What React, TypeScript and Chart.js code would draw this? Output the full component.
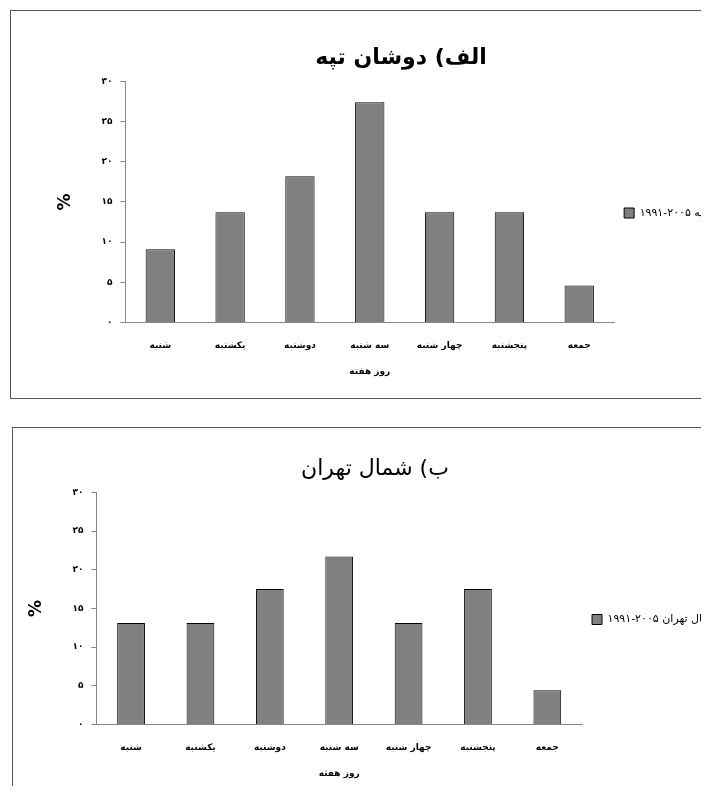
import { useEffect, useRef } from 'react';
import { Chart, registerables } from 'chart.js';

Chart.register(...registerables);

const days = ['شنبه', 'یکشنبه', 'دوشنبه', 'سه شنبه', 'چهار شنبه', 'پنجشنبه', 'جمعه'];
const doshanTappeh = [9.1, 13.7, 18.2, 27.4, 13.7, 13.7, 4.6];
const northTehran = [13.1, 13.1, 17.5, 21.7, 13.1, 17.5, 4.4];
const yTicks = [0, 5, 10, 15, 20, 25, 30];

const faDigits = (n: number) => String(n).replace(/\d/g, (d) => '۰۱۲۳۴۵۶۷۸۹'[+d]);

const FONT = "'DejaVu Sans', 'Noto Sans', sans-serif";

type Props = {
  title: string;
  titleBold: boolean;
  legend: string;
  values: number[];
  padding: { left: number; right: number; top: number; bottom: number };
  barPct: number;
};

const DayChart = ({ title, titleBold, legend, values, padding, barPct }: Props) => {
  const ref = useRef<HTMLCanvasElement>(null);
  useEffect(() => {
    if (!ref.current) return;
    const chart = new Chart(ref.current, {
      type: 'bar',
      data: {
        labels: days,
        datasets: [{
          label: legend,
          data: values,
          backgroundColor: '#808080',
          borderColor: '#000',
          borderWidth: 1,
          barPercentage: barPct,
          categoryPercentage: 1,
        }],
      },
      options: {
        animation: false,
        responsive: false,
        layout: { padding },
        plugins: {
          title: {
            display: true,
            text: title,
            color: '#000',
            font: { family: FONT, size: 22, weight: titleBold ? 'bold' : 'normal' },
            padding: { top: 0, bottom: 10 },
          },
          legend: {
            position: 'right',
            labels: {
              color: '#000',
              boxWidth: 10,
              boxHeight: 10,
              font: { family: FONT, size: 11 },
            },
          },
          tooltip: { enabled: false },
        },
        scales: {
          x: {
            grid: { display: false },
            border: { color: '#888' },
            ticks: { color: '#000', font: { family: FONT, size: 9, weight: 'bold' }, padding: 10 },
            title: { display: true, text: 'روز هفته', color: '#000', font: { family: FONT, size: 9, weight: 'bold' }, padding: { top: 5 } },
          },
          y: {
            min: 0,
            max: 30,
            afterBuildTicks: (axis) => { axis.ticks = yTicks.map((v) => ({ value: v })); },
            grid: { drawOnChartArea: false, tickLength: 5, color: '#888' },
            border: { color: '#888' },
            ticks: { color: '#000', font: { family: FONT, size: 9, weight: 'bold' }, callback: (v) => faDigits(Number(v)), padding: 8 },
            title: { display: true, text: '%', color: '#000', font: { family: FONT, size: 17, weight: 'bold' }, padding: { bottom: 18 } },
          },
        },
      },
    });
    return () => chart.destroy();
  }, []);
  return <canvas ref={ref} width={740} height={380} style={{ display: 'block' }} />;
};

export default function App() {
  return (
    <div style={{ position: 'relative', width: 701, height: 778, overflow: 'hidden' }}>
      <div style={{ position: 'absolute', left: 2, top: 2, width: 697, height: 387, border: '1px solid #555', overflow: 'hidden', background: '#fff' }}>
        <DayChart
          title="الف) دوشان تپه"
          titleBold
          legend="دوشان تپه ۲۰۰۵-۱۹۹۱"
          values={doshanTappeh}
          padding={{ left: 40, right: 0, top: 34, bottom: 10 }}
          barPct={0.42}
        />
      </div>
      <div style={{ position: 'absolute', left: 4, top: 419, width: 720, height: 380, borderTop: '1px solid #555', borderLeft: '1px solid #555', overflow: 'hidden', background: '#fff' }}>
        <DayChart
          title="ب) شمال تهران"
          titleBold={false}
          legend="شمال تهران ۲۰۰۵-۱۹۹۱"
          values={northTehran}
          padding={{ left: 9, right: 25, top: 28, bottom: 25 }}
          barPct={0.4}
        />
      </div>
    </div>
  );
}
